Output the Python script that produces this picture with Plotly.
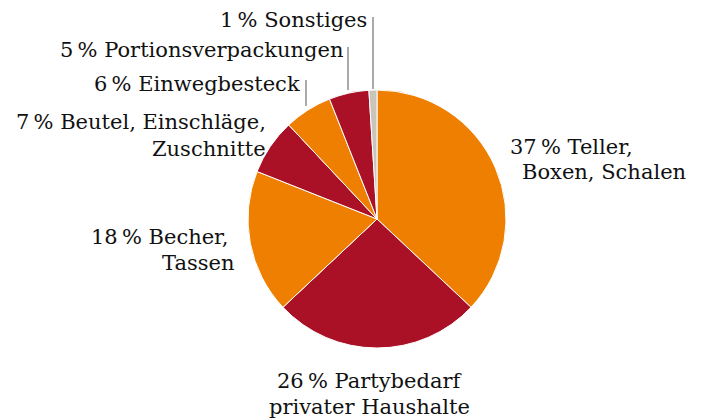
import plotly.graph_objects as go

categories = ["Teller, Boxen, Schalen", "Partybedarf privater Haushalte", "Becher, Tassen",
              "Beutel, Einschläge, Zuschnitte", "Einwegbesteck", "Portionsverpackungen", "Sonstiges"]
values = [37, 26, 18, 7, 6, 5, 1]
label_lines = [
    ["37\u2009% Teller,", "Boxen, Schalen"],
    ["26\u2009% Partybedarf", "privater Haushalte"],
    ["18\u2009% Becher,", "Tassen"],
    ["7\u2009% Beutel, Einschläge,", "Zuschnitte"],
    ["6\u2009% Einwegbesteck"],
    ["5\u2009% Portionsverpackungen"],
    ["1\u2009% Sonstiges"],
]
colors = ["#EE7F00", "#AB1126", "#EE7F00", "#AB1126", "#EE7F00", "#AB1126", "#C9C5BA"]

W, H = 704, 419
cx, cy, r = 377, 219, 129

fig = go.Figure(go.Pie(
    labels=categories, values=values, sort=False, direction="clockwise", rotation=0,
    marker=dict(colors=colors, line=dict(color="white", width=1)),
    textinfo="none", showlegend=False, hole=0,
    domain=dict(x=[(cx - r) / W, (cx + r) / W], y=[1 - (cy + r) / H, 1 - (cy - r) / H]),
))

FONT = dict(family="DejaVu Serif", size=21, color="#111111")
# (x, y, xanchor) per line, in pixels
pos = [
    [(508, 147, "left"), (520, 172, "left")],
    [(369, 381, "center"), (369, 407, "center")],
    [(231, 237, "right"), (236, 263, "right")],
    [(268, 122, "right"), (268, 149, "right")],
    [(302, 84, "right")],
    [(345, 50, "right")],
    [(369, 20, "right")],
]
anns = []
for lines, ps in zip(label_lines, pos):
    for t, (x, y, xa) in zip(lines, ps):
        anns.append(dict(text=t, x=x / W, y=1 - y / H, xref="paper", yref="paper",
                         xanchor=xa, yanchor="middle", showarrow=False, font=FONT))

leaders = [(373, 17, 373, 89), (348, 47, 348, 90), (306, 80, 306, 106)]
shapes = [dict(type="line", xref="paper", yref="paper", x0=a / W, y0=1 - b / H, x1=c / W, y1=1 - d / H,
               line=dict(color="#555555", width=1)) for a, b, c, d in leaders]

fig.update_layout(width=W, height=H, margin=dict(l=0, r=0, t=0, b=0),
                  paper_bgcolor="white", plot_bgcolor="white",
                  annotations=anns, shapes=shapes)
fig.write_html("out.html")
